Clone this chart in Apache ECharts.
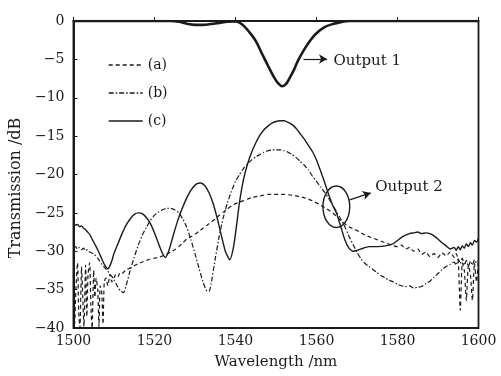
<!DOCTYPE html>
<html>
<head>
<meta charset="utf-8">
<script src="https://cdn.jsdelivr.net/npm/echarts@6/dist/echarts.min.js"></script>
<style>html,body{margin:0;padding:0;background:#fff}#c{width:501px;height:376px}</style>
</head>
<body>
<div id="c"></div>
<script>
// ---- data ----
const xTicks = [1500, 1520, 1540, 1560, 1580, 1600];
const yTicks = [-40, -35, -30, -25, -20, -15, -10, -5, 0];
const seriesNames = ['(a)', '(b)', '(c)'];

const output1 = [
  [1500,0],[1505,0],[1510,0],[1515,0],[1520,0],[1524,0],[1526,-0.1],[1528,-0.35],[1530,-0.5],[1532,-0.5],
  [1534,-0.4],[1536,-0.25],[1538,-0.1],[1540,-0.05],[1541,-0.2],[1542,-0.6],[1543.5,-1.5],[1545,-2.6],
  [1546.5,-4.2],[1548,-5.8],[1549.5,-7.3],[1550.5,-8.1],[1551.5,-8.5],[1552.5,-8.2],[1553.5,-7.3],
  [1554.5,-6.3],[1555.5,-5.1],[1557,-3.7],[1558.5,-2.5],[1560,-1.6],[1562,-0.8],[1564,-0.4],[1566,-0.15],
  [1568,0],[1575,0],[1580,0],[1590,0],[1600,0]
];

const outA = [
  [1500,-33],[1500.3,-39.5],[1500.6,-35],[1501,-31.5],[1501.3,-38],[1501.6,-40],[1502,-32],[1502.3,-36],
  [1502.6,-39.8],[1503,-31.8],[1503.3,-38.5],[1503.6,-33],[1504,-31.5],[1504.3,-37],[1504.6,-40],[1505,-32.5],
  [1505.3,-36],[1505.6,-33.5],[1506,-35],[1506.3,-39.8],[1506.6,-34.5],[1507,-35.5],[1507.3,-39.5],[1507.6,-34],
  [1508,-33.5],[1508.5,-34.5],[1509,-33],[1509.5,-34],[1510,-33.5],[1510.5,-33],[1511,-33.3],[1511.5,-32.8],
  [1512,-32.9],[1513,-32.4],[1514,-32.2],[1515,-31.9],[1516,-31.6],[1517,-31.4],[1518,-31.2],[1519,-31.0],
  [1520,-30.9],[1521,-30.8],[1522,-30.6],[1523,-30.4],[1524,-30.1],[1525,-29.8],[1526,-29.4],[1527,-28.9],
  [1528,-28.4],[1529,-28.1],[1530,-27.8],[1531,-27.4],[1532,-27.0],[1533,-26.6],[1534,-26.2],[1535,-25.8],
  [1536,-25.3],[1537,-24.9],[1538,-24.5],[1539,-24.1],[1540,-23.8],[1541,-23.6],[1542,-23.4],[1543,-23.2],
  [1544,-23.0],[1546,-22.8],[1548,-22.6],[1550,-22.6],[1552,-22.6],[1554,-22.7],[1556,-22.9],[1558,-23.2],
  [1560,-23.7],[1562,-24.3],[1564,-25.0],[1566,-26.0],[1568,-26.8],[1570,-27.3],[1572,-27.9],[1574,-28.3],
  [1576,-28.7],[1578,-29.1],[1580,-29.4],[1581,-29.2],[1582,-29.7],[1583,-29.5],[1584,-30.0],[1585,-29.7],
  [1586,-30.4],[1587,-30.1],[1588,-30.7],[1589,-30.3],[1590,-30.8],[1591,-30.2],[1592,-30.6],[1593,-30.1],
  [1594,-30.8],[1594.5,-30.3],[1595,-31.2],[1595.5,-37.7],[1596,-31.5],[1596.5,-32.5],[1597,-36.4],
  [1597.5,-31.8],[1598,-33],[1598.5,-36.4],[1599,-31.5],[1599.5,-34],[1600,-31]
];

const outB = [
  [1500,-29.6],[1500.5,-29.4],[1501,-29.7],[1501.5,-29.5],[1502,-29.8],[1502.5,-29.6],[1503,-29.9],[1503.5,-29.8],
  [1504,-30.1],[1504.5,-30.2],[1505,-30.4],[1505.5,-30.6],[1506,-30.9],[1506.5,-31.3],[1507,-31.7],[1507.5,-32.0],
  [1508,-32.3],[1508.5,-32.6],[1509,-33.0],[1509.5,-33.3],[1510,-33.7],[1510.5,-34.2],[1511,-34.7],[1511.7,-35.2],
  [1512.4,-35.4],[1513,-34.5],[1514,-32.5],[1515,-30.8],[1516,-29.2],[1517,-27.9],[1518,-26.9],[1519,-26.0],
  [1520,-25.3],[1521,-24.9],[1522,-24.6],[1523,-24.4],[1524,-24.4],[1525,-24.6],[1526,-25.0],[1527,-25.8],
  [1528,-26.9],[1529,-28.5],[1530,-30.3],[1531,-32.2],[1532,-34.0],[1533,-35.2],[1533.5,-35.2],[1534,-34.2],
  [1535,-31.0],[1536,-28.0],[1537,-25.6],[1538,-23.7],[1539,-22.2],[1540,-20.9],[1541,-20.0],[1542,-19.2],
  [1543,-18.6],[1544,-18.1],[1545,-17.7],[1546,-17.4],[1547,-17.1],[1548,-16.9],[1549,-16.8],[1550,-16.8],
  [1551,-16.8],[1552,-16.9],[1553,-17.1],[1554,-17.4],[1555,-17.8],[1556,-18.3],[1557,-18.8],[1558,-19.4],
  [1559,-20.2],[1560,-20.9],[1561,-21.6],[1562,-22.3],[1563,-23.1],[1564,-24.0],[1565,-24.9],[1566,-25.8],
  [1567,-26.8],[1568,-28.0],[1569,-29.1],[1570,-30.1],[1571,-31.0],[1572,-31.6],[1573,-32.0],[1574,-32.4],
  [1575,-32.8],[1576,-33.2],[1577,-33.5],[1578,-33.8],[1579,-34.0],[1580,-34.3],[1581,-34.5],[1582,-34.6],
  [1583,-34.5],[1584,-34.8],[1585,-34.7],[1586,-34.6],[1587,-34.2],[1588,-33.9],[1589,-33.4],[1590,-32.9],
  [1591,-32.4],[1592,-32.0],[1593,-31.7],[1594,-31.4],[1594.5,-31.8],[1595,-31.0],[1595.5,-31.6],[1596,-30.9],
  [1596.5,-31.8],[1597,-31.2],[1597.5,-32.0],[1598,-31.3],[1598.5,-31.8],[1599,-31.1],[1599.5,-31.5],[1600,-31.2]
];

const outC = [
  [1500,-26.4],[1500.5,-26.6],[1501,-26.5],[1501.5,-26.8],[1502,-26.7],[1502.5,-27.0],[1503,-27.2],[1503.5,-27.5],
  [1504,-27.8],[1504.5,-28.3],[1505,-28.8],[1505.5,-29.3],[1506,-29.8],[1506.5,-30.4],[1507,-31.0],[1507.5,-31.6],
  [1508,-32.0],[1508.5,-32.3],[1509,-31.9],[1509.5,-31.2],[1510,-30.3],[1511,-29.0],[1512,-27.7],[1513,-26.6],
  [1514,-25.8],[1515,-25.2],[1516,-25.0],[1517,-25.1],[1518,-25.6],[1519,-26.4],[1520,-27.6],[1521,-29.0],
  [1522,-30.3],[1522.7,-30.8],[1523.5,-30.0],[1524.5,-28.2],[1525.5,-26.4],[1526.5,-24.9],[1527.5,-23.6],
  [1528.5,-22.5],[1529.5,-21.7],[1530.5,-21.2],[1531.4,-21.1],[1532.5,-21.5],[1533.5,-22.4],[1534.5,-23.8],
  [1535.5,-25.7],[1536.5,-27.9],[1537.5,-30.0],[1538.6,-31.1],[1539.5,-29.5],[1540.3,-26.5],[1541,-23.6],
  [1542,-20.6],[1543,-18.6],[1544,-17.1],[1545,-15.9],[1546,-14.9],[1547,-14.2],[1548,-13.7],[1549,-13.3],
  [1550,-13.1],[1551,-13.0],[1552,-13.0],[1553,-13.2],[1554,-13.5],[1555,-14.0],[1556,-14.7],[1557,-15.4],
  [1558,-16.2],[1559,-17.0],[1560,-18.1],[1561,-19.5],[1562,-21.0],[1563,-22.6],[1564,-24.0],[1565,-25.1],
  [1566,-26.8],[1567,-28.5],[1568,-29.6],[1569,-30.0],[1570,-29.9],[1571,-29.7],[1573,-29.4],[1575,-29.4],
  [1577,-29.3],[1579,-29.0],[1580,-28.6],[1581,-28.2],[1582,-27.9],[1583,-27.7],[1584,-27.6],[1585,-27.5],
  [1586,-27.7],[1587,-27.6],[1588,-27.7],[1589,-28.0],[1590,-28.4],[1591,-28.9],[1592,-29.3],[1593,-29.7],
  [1594,-29.5],[1594.5,-29.9],[1595,-29.4],[1595.5,-29.8],[1596,-29.3],[1596.5,-29.6],[1597,-29.0],
  [1597.5,-29.4],[1598,-28.9],[1598.5,-29.2],[1599,-28.6],[1599.5,-28.8],[1600,-28.3]
];

// annotation anchors (data coordinates)
const out1Arrow = [[1556.8, -4.95], [1562.6, -4.95]];
const out1Label = [1564.2, -5.2];
const out2Ellipse = { center: [1564.9, -24.2], rx: 3.3, ry: 2.7 };
const out2Arrow = [[1568.2, -23.3], [1573.4, -22.4]];
const out2Label = [1574.5, -21.6];

// ---- chart ----
const FONT = 'DejaVu Serif';
const INK = '#1a1a1a';
const chart = echarts.init(document.getElementById('c'), null, { renderer: 'canvas' });

function lineSeries(name, data, type, width, smooth) {
  return {
    name: name, type: 'line', data: data, showSymbol: false, symbol: 'none',
    smooth: smooth, animation: false,
    lineStyle: { color: INK, width: width, type: type },
    itemStyle: { color: INK }
  };
}
function numLabel(v) { return v < 0 ? '\u2212' + Math.abs(v) : String(v); }

chart.setOption({
  animation: false,
  grid: { left: 73, right: 22.5, top: 21, bottom: 48, show: true, borderColor: INK, borderWidth: 1.8, containLabel: false },
  legend: {
    data: seriesNames, orient: 'vertical', left: 103, top: 53, itemWidth: 34, itemHeight: 14, itemGap: 14,
    textStyle: { fontFamily: FONT, fontSize: 14, color: INK },
    lineStyle: { width: 1.4 },
    itemStyle: { color: 'rgba(0,0,0,0)', borderColor: 'rgba(0,0,0,0)', borderWidth: 0, opacity: 0 }
  },
  xAxis: {
    type: 'value', min: xTicks[0], max: xTicks[xTicks.length - 1], interval: 20,
    name: 'Wavelength /nm', nameLocation: 'middle', nameGap: 27,
    nameTextStyle: { fontFamily: FONT, fontSize: 15, color: INK },
    axisLine: { show: true, lineStyle: { color: INK, width: 2 } },
    axisTick: { show: true, inside: true, length: 4, lineStyle: { color: INK, width: 1 } },
    axisLabel: { margin: 6, fontFamily: FONT, fontSize: 14, color: INK, formatter: numLabel },
    splitLine: { show: false }
  },
  yAxis: {
    type: 'value', min: yTicks[0], max: yTicks[yTicks.length - 1], interval: 5,
    name: 'Transmission /dB', nameLocation: 'middle', nameGap: 46,
    nameTextStyle: { fontFamily: FONT, fontSize: 16, color: INK, padding: [0, 27, 0, 0] },
    axisLine: { show: true, lineStyle: { color: INK, width: 2 } },
    axisTick: { show: true, inside: true, length: 4, lineStyle: { color: INK, width: 1 } },
    axisLabel: { margin: 9, fontFamily: FONT, fontSize: 14, color: INK, formatter: numLabel },
    splitLine: { show: false }
  },
  series: [
    lineSeries('(a)', outA, [4, 3], 1.2, 0.2),
    lineSeries('(b)', outB, [5, 2, 1.5, 2], 1.2, 0.2),
    lineSeries('(c)', outC, 'solid', 1.4, 0.2),
    Object.assign(lineSeries('Output 1', output1, 'solid', 2.6, 0.35), {
      markLine: {
        silent: true, symbol: ['none', 'arrow'], symbolSize: [7, 8], animation: false,
        lineStyle: { color: INK, width: 1.2, type: 'solid' }, label: { show: false },
        data: [[{ coord: out1Arrow[0] }, { coord: out1Arrow[1] }], [{ coord: out2Arrow[0] }, { coord: out2Arrow[1] }]]
      }
    })
  ]
});

function place() {
  const c = chart.convertToPixel({ gridIndex: 0 }, out2Ellipse.center);
  const e1 = chart.convertToPixel({ gridIndex: 0 }, [out2Ellipse.center[0] + out2Ellipse.rx, out2Ellipse.center[1] + out2Ellipse.ry]);
  const l1 = chart.convertToPixel({ gridIndex: 0 }, out1Label);
  const l2 = chart.convertToPixel({ gridIndex: 0 }, out2Label);
  chart.setOption({
    graphic: [
      { type: 'ellipse', shape: { cx: c[0], cy: c[1], rx: Math.abs(e1[0] - c[0]), ry: Math.abs(e1[1] - c[1]) },
        style: { fill: 'none', stroke: INK, lineWidth: 1.4 }, z: 100 },
      { type: 'text', x: l1[0], y: l1[1], style: { text: 'Output 1', font: '15px "DejaVu Serif"', fill: INK, textVerticalAlign: 'middle', verticalAlign: 'middle' }, z: 100 },
      { type: 'text', x: l2[0], y: l2[1], style: { text: 'Output 2', font: '15px "DejaVu Serif"', fill: INK, textVerticalAlign: 'middle', verticalAlign: 'middle' }, z: 100 }
    ]
  });
}
place();
</script>
</body>
</html>
